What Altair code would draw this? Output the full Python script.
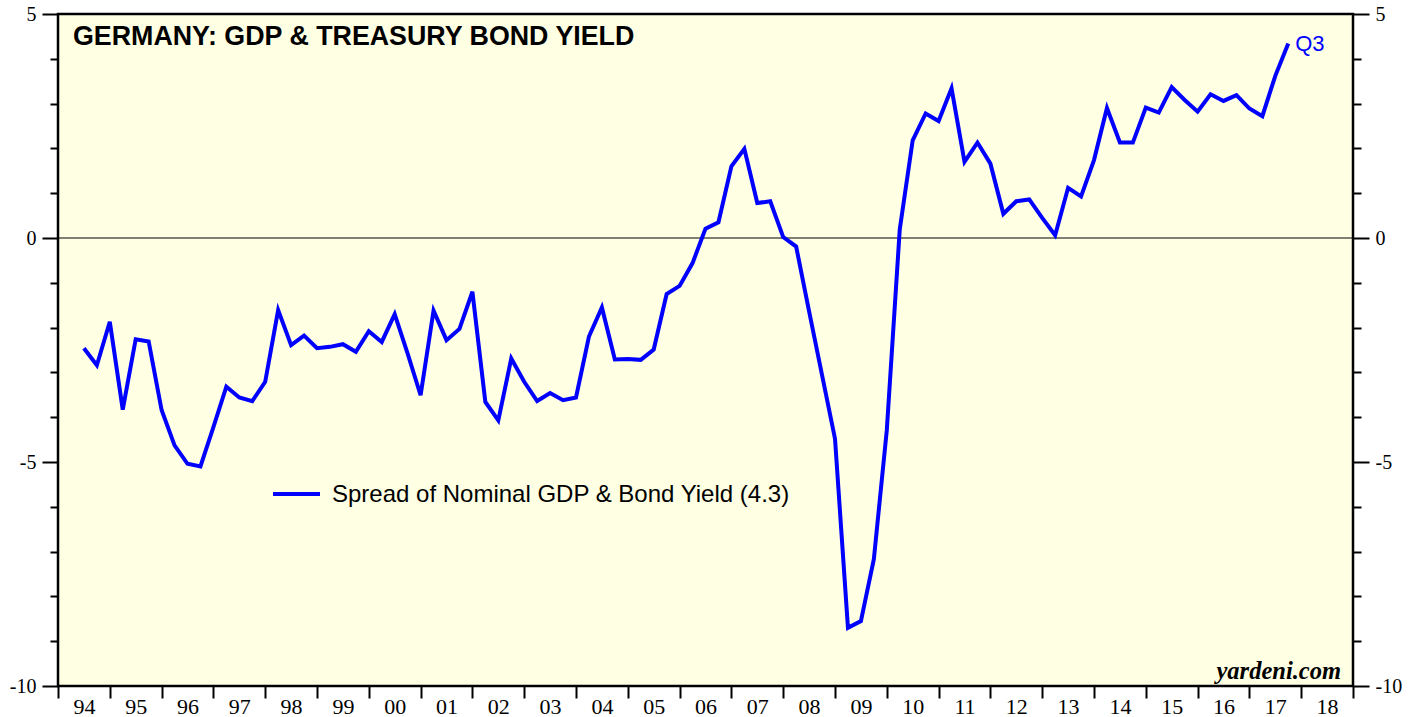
import altair as alt
import pandas as pd

# ---- data ----
start_year = 1994
start_quarter = 2
spread = [
    -2.46, -2.84, -1.87, -3.83, -2.26, -2.31, -3.84, -4.63, -5.04, -5.10,
    -4.22, -3.32, -3.56, -3.64, -3.21, -1.61, -2.39, -2.18, -2.46, -2.43,
    -2.37, -2.54, -2.08, -2.32, -1.70, -2.58, -3.51, -1.62, -2.28, -2.03,
    -1.20, -3.66, -4.07, -2.69, -3.21, -3.64, -3.46, -3.62, -3.56, -2.20,
    -1.55, -2.71, -2.70, -2.72, -2.49, -1.25, -1.07, -0.56, 0.21, 0.35,
    1.60, 1.99, 0.78, 0.82, 0.02, -0.19, -1.64, -3.06, -4.48, -8.70,
    -8.55, -7.17, -4.29, 0.19, 2.18, 2.78, 2.61, 3.34, 1.70, 2.13,
    1.66, 0.54, 0.82, 0.86, 0.45, 0.06, 1.12, 0.93, 1.74, 2.90,
    2.13, 2.13, 2.91, 2.80, 3.37, 3.08, 2.82, 3.21, 3.06, 3.19,
    2.89, 2.72, 3.62, 4.34,
]
x_years = list(range(1994, 2020))
y_ticks = list(range(-10, 6))
zero_line = [0]
title_text = "GERMANY: GDP & TREASURY BOND YIELD"
legend_text = "Spread of Nominal GDP & Bond Yield (4.3)"
last_label = "Q3"
source_text = "yardeni.com"

# ---- build table ----
t = []
yr, q = start_year, start_quarter
for _ in spread:
    t.append(yr + q / 4)
    q += 1
    if q > 4:
        q = 1
        yr += 1
df = pd.DataFrame({"t": t, "v": spread})

W, H = 1295, 672
BLUE = "#0000FF"
SANS = "Liberation Sans"
SERIF = "Liberation Serif"

xscale = alt.Scale(domain=[1994, 2019], nice=False, zero=False)
yscale = alt.Scale(domain=[-10, 5], nice=False, zero=False)

major = {"condition": {"test": "datum.value % 5 === 0", "value": 16}, "value": 8}

x_axis = alt.Axis(
    values=x_years, title=None, grid=False, domain=False,
    tickSize=12, tickWidth=2, tickColor="black",
    labelExpr="datum.value < 2019 ? substring(toString(datum.value), 2, 4) : ''",
    labelOffset=W / 25 / 2, labelFlush=False, labelOverlap=False, labelBound=False,
    labelFont=SERIF, labelFontSize=22, labelColor="black", labelPadding=-2,
)
y_left = alt.Axis(
    values=y_ticks, title=None, grid=False, domain=False, orient="left",
    tickSize=major, tickWidth=2, tickColor="black",
    labelExpr="datum.value % 5 === 0 ? toString(datum.value) : ''",
    labelFont=SERIF, labelFontSize=20, labelColor="black", labelPadding=6,
    labelOverlap=False, labelBound=False, labelFlush=False,
)
y_right = alt.Axis(
    values=y_ticks, title=None, grid=False, domain=False, orient="right",
    tickSize=major, tickWidth=2, tickColor="black",
    labelExpr="datum.value % 5 === 0 ? toString(datum.value) : ''",
    labelFont=SERIF, labelFontSize=20, labelColor="black", labelPadding=6,
    labelOverlap=False, labelBound=False, labelFlush=False,
)

X = alt.X("t:Q", scale=xscale, axis=x_axis)

zero = alt.Chart(pd.DataFrame({"v": zero_line})).mark_rule(
    color="black", strokeWidth=1.2
).encode(y=alt.Y("v:Q", scale=yscale, axis=y_left))

line = alt.Chart(df).mark_line(color=BLUE, strokeWidth=4).encode(
    x=X,
    y=alt.Y("v:Q", scale=yscale, axis=None),
)

right = alt.Chart(df).mark_line(opacity=0).encode(
    x=X,
    y=alt.Y("v:Q", scale=yscale, axis=y_right),
)

q3 = alt.Chart(df.tail(1).assign(lab=last_label)).mark_text(
    align="left", baseline="middle", dx=7, fontSize=22, font=SANS, color=BLUE
).encode(
    x=X,
    y=alt.Y("v:Q", scale=yscale, axis=None),
    text="lab:N",
)

title = alt.Chart(pd.DataFrame({"s": [title_text]})).mark_text(
    align="left", baseline="alphabetic", fontSize=26.8, fontWeight="bold",
    font=SANS, color="black"
).encode(x=alt.value(15), y=alt.value(31), text="s:N")

leg_line = alt.Chart(pd.DataFrame({"s": [legend_text]})).mark_rule(
    color=BLUE, strokeWidth=4
).encode(x=alt.value(215), x2=alt.value(262), y=alt.value(480))

leg_text = alt.Chart(pd.DataFrame({"s": [legend_text]})).mark_text(
    align="left", baseline="middle", fontSize=24, font=SANS, color="black"
).encode(x=alt.value(274), y=alt.value(481), text="s:N")

source = alt.Chart(pd.DataFrame({"s": [source_text]})).mark_text(
    align="right", baseline="alphabetic", fontSize=24.5, font=SERIF,
    fontStyle="italic", fontWeight="bold", color="black"
).encode(x=alt.value(1283), y=alt.value(665), text="s:N")

chart = alt.layer(
    zero, line, right, q3, title, leg_line, leg_text, source
).resolve_axis(y="independent").properties(
    width=W, height=H,
    autosize=alt.AutoSizeParams(type="none"),
    padding={"left": 58, "top": 14, "right": 68, "bottom": 31},
    background="white",
).configure_view(
    fill="#FFFFE4", stroke="black", strokeWidth=2.5
).configure_axis(grid=False, domain=False)

chart.save("out.html", embed_options={"renderer": "svg", "actions": False})
